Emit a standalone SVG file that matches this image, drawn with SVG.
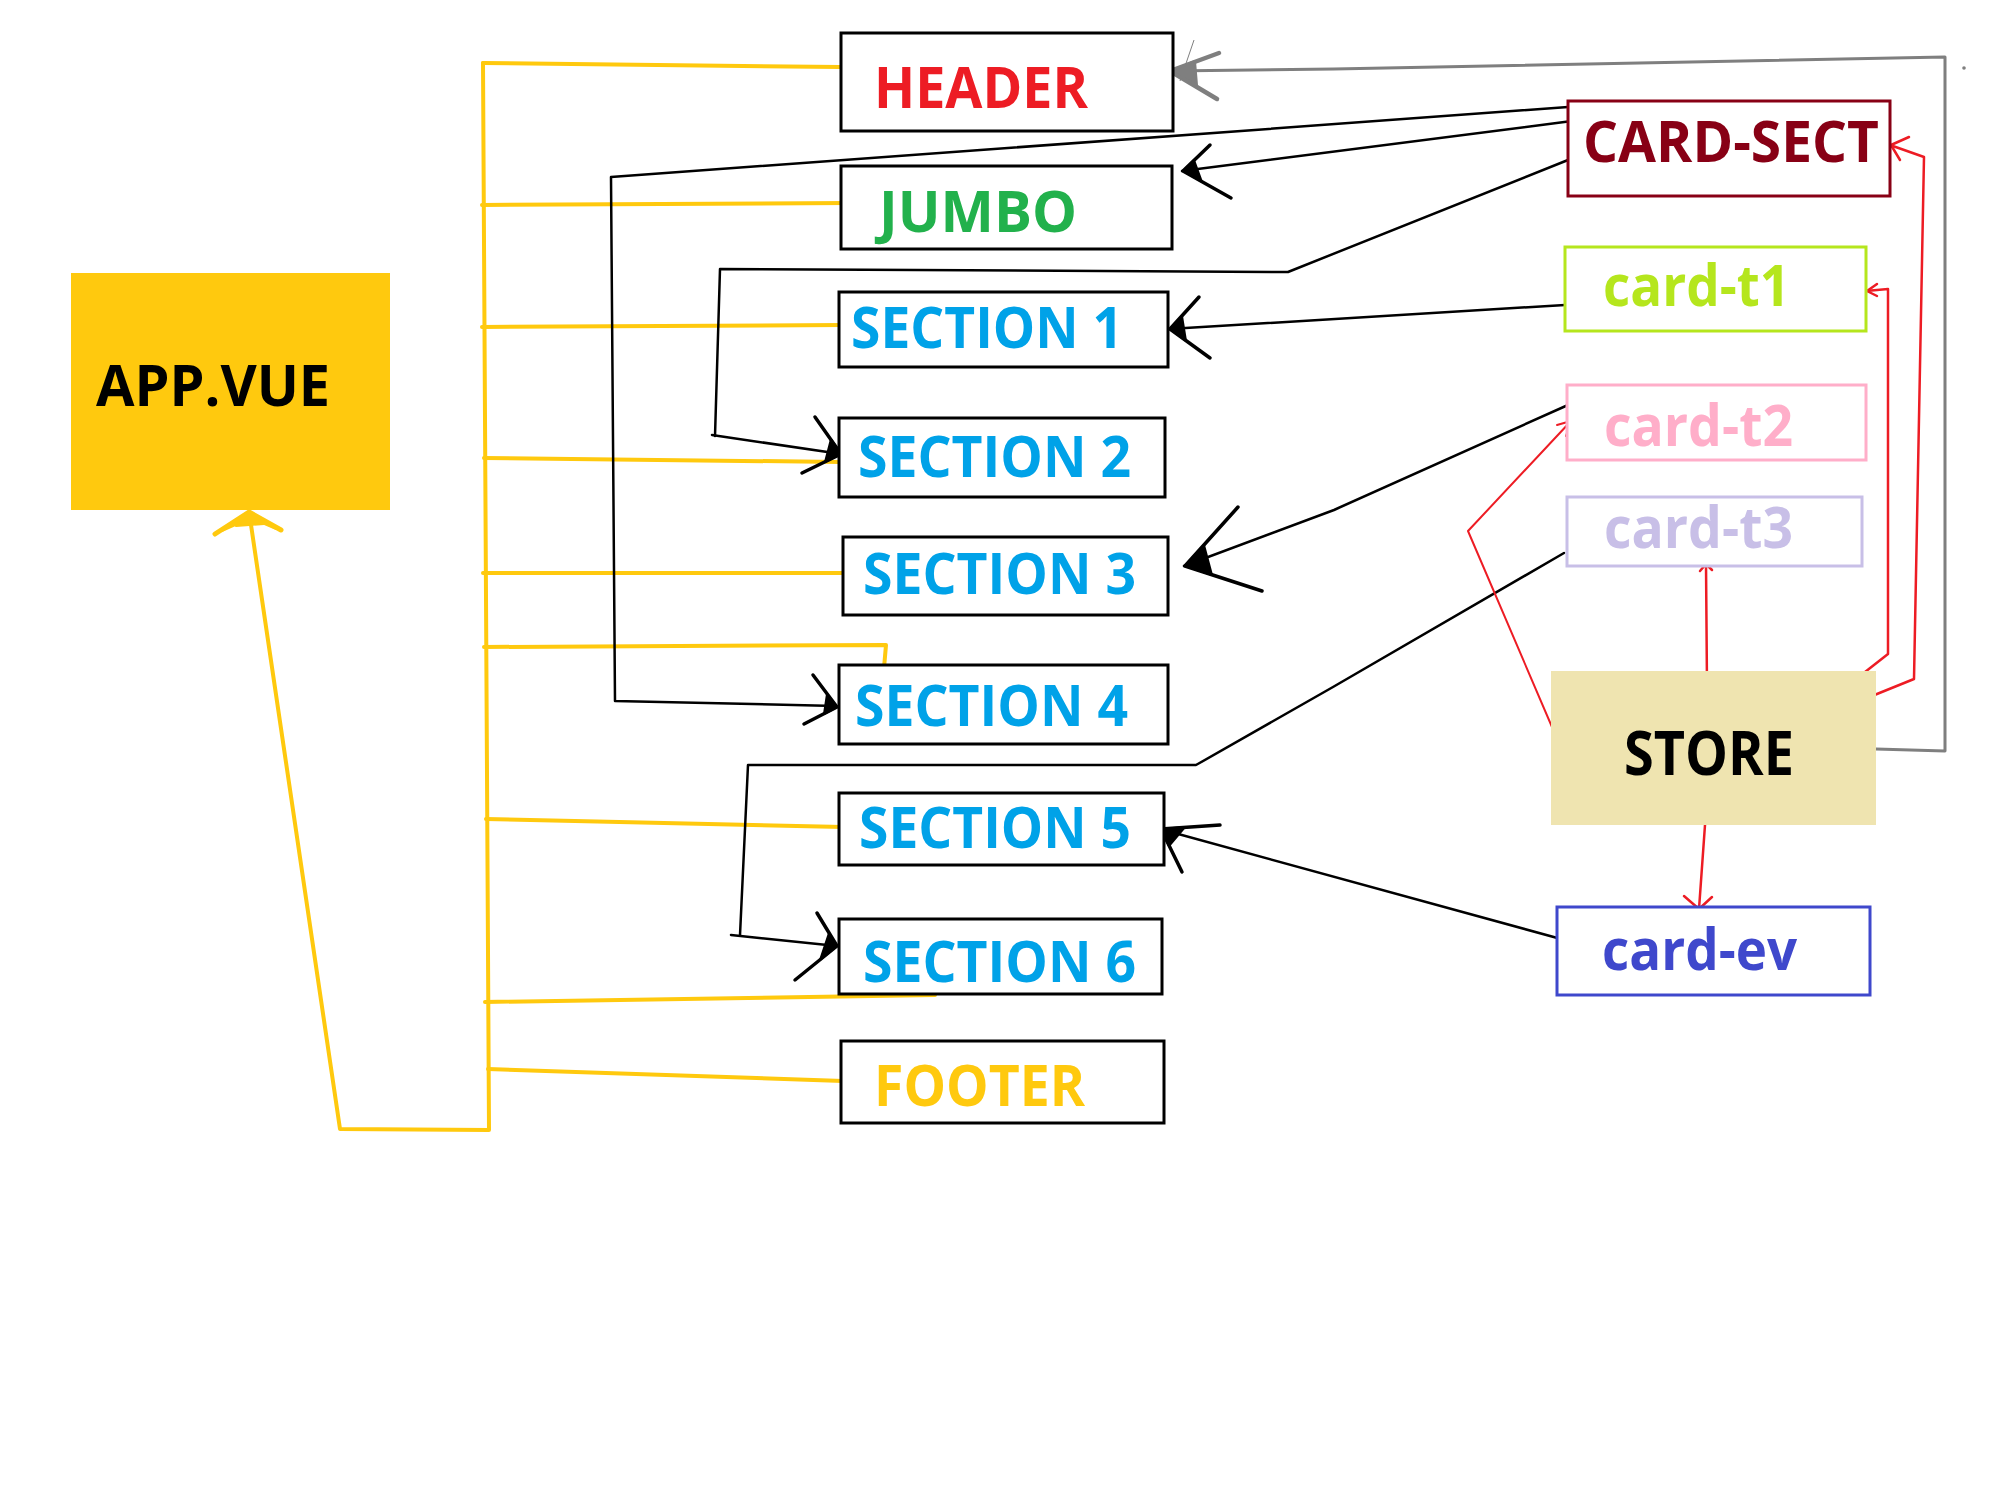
<svg xmlns="http://www.w3.org/2000/svg" width="2000" height="1500" viewBox="0 0 2000 1500">
<style>
.t{font-family:"Open Sans","Liberation Sans",sans-serif;font-weight:700;font-size:57px}
.box{fill:#fff;stroke:#000;stroke-width:3}
.y{fill:none;stroke:#FFC90E;stroke-width:4;stroke-linecap:round;stroke-linejoin:round}
.k{fill:none;stroke:#000;stroke-width:2.5;stroke-linecap:round;stroke-linejoin:round}
.kh{fill:none;stroke:#000;stroke-width:3.5;stroke-linecap:round;stroke-linejoin:round}
.kw{fill:#000;stroke:#000;stroke-width:2;stroke-linejoin:round}
.r{fill:none;stroke:#ED1C24;stroke-width:2.5;stroke-linecap:round;stroke-linejoin:round}
.g{fill:none;stroke:#7F7F7F;stroke-width:3;stroke-linecap:round;stroke-linejoin:round}
.blue{fill:#00A2E8}
</style>
<rect width="2000" height="1500" fill="#fff"/>

<g id="connectors">
  <!-- yellow tree from APP.VUE -->
  <polyline class="y" points="250,518 340,1129 489,1130 483,63"/>
  <polyline class="y" points="483,63 840,67"/>
  <polyline class="y" points="482,205 849,203"/>
  <polyline class="y" points="482,327 843,325"/>
  <polyline class="y" points="484,458 841,462"/>
  <polyline class="y" points="483,573 846,573"/>
  <polyline class="y" points="484,647 886,645 884,668"/>
  <polyline class="y" points="486,819 843,827"/>
  <polyline class="y" points="485,1002 935,995"/>
  <polyline class="y" points="488,1069 843,1081"/>
  <polyline class="y" style="stroke-width:5" points="215,534 249,512 281,530"/>
  <polyline class="y" points="222,530 240,522 262,522 276,528"/>
  <polygon points="249,512 236,526 264,524" fill="#FFC90E" stroke="#FFC90E" stroke-width="2" stroke-linejoin="round"/>

  <!-- gray STORE -> HEADER -->
  <polyline class="g" points="1876,749 1945,751 1945,57 1334,69 1169,71"/>
  <polyline class="g" style="stroke-width:4.5" points="1219,53 1170,71 1217,99"/>
  <polygon points="1170,71 1195,61 1197,85" fill="#7F7F7F" stroke="#7F7F7F" stroke-width="2" stroke-linejoin="round"/>
  <line x1="1194" y1="40" x2="1180" y2="81" stroke="#7F7F7F" stroke-width="1"/>
  <circle cx="1964" cy="68" r="1.8" fill="#7F7F7F"/>

  <!-- CARD-SECT -> SECTION 4 -->
  <polyline class="k" points="1568,107 611,177 615,701 836,706"/>
  <polyline class="kh" points="813,675 837,707 804,724"/>
  <polygon class="kw" points="837,707 827,694 824,714"/>
  <!-- CARD-SECT -> JUMBO -->
  <polyline class="k" points="1572,121 1182,171"/>
  <polyline class="kh" points="1210,145 1183,171 1231,198"/>
  <polygon class="kw" points="1183,171 1194,160 1202,182"/>
  <!-- CARD-SECT -> SECTION 2 -->
  <polyline class="k" points="1568,160 1288,272 720,269 715,436"/>
  <polyline class="k" points="712,435 841,454"/>
  <polyline class="kh" points="815,417 841,454 802,473"/>
  <polygon class="kw" points="841,454 831,439 825,462"/>
  <!-- card-t1 -> SECTION 1 -->
  <polyline class="k" points="1565,305 1169,329"/>
  <polyline class="kh" points="1199,297 1170,329 1210,358"/>
  <polygon class="kw" points="1170,329 1182,316 1186,341"/>
  <!-- card-t2 -> SECTION 3 -->
  <polyline class="k" points="1568,405 1334,510 1184,566"/>
  <polyline class="kh" points="1238,507 1185,566 1262,591"/>
  <polygon class="kw" points="1185,566 1204,545 1212,575"/>
  <!-- card-t3 -> SECTION 6 -->
  <polyline class="k" points="1564,553 1333,687 1196,765 748,765 740,935"/>
  <polyline class="k" points="731,935 837,946"/>
  <polyline class="kh" points="817,913 837,946 795,980"/>
  <polygon class="kw" points="837,946 829,933 820,960"/>
  <!-- card-ev -> SECTION 5 -->
  <polyline class="k" points="1561,939 1160,829"/>
  <polyline class="kh" points="1220,825 1161,829 1182,872"/>
  <polygon class="kw" points="1161,829 1185,827 1169,846"/>

  <!-- red STORE connectors -->
  <polyline class="r" points="1872,696 1914,679 1924,157 1890,145"/>
  <polyline class="r" points="1909,137 1891,145 1900,160"/>
  <polyline class="r" points="1851,683 1888,654 1888,289 1866,291"/>
  <polyline class="r" points="1877,284 1867,291 1877,296"/>
  <polyline class="r" points="1707,687 1706,564"/>
  <polyline class="r" points="1700,571 1706,564 1712,570"/>
  <polyline class="r" style="stroke-width:2" points="1558,741 1468,531 1571,421"/>
  <polyline class="r" style="stroke-width:2" points="1557,425 1571,421 1566,436"/>
  <polyline class="r" points="1705,825 1699,909"/>
  <polyline class="r" points="1684,896 1699,909 1712,897"/>
</g>

<g id="app-vue">
  <rect x="71" y="273" width="319" height="237" fill="#FFC90E"/>
  <text class="t" x="96" y="406" textLength="234" lengthAdjust="spacingAndGlyphs" fill="#000">APP.VUE</text>
</g>
<g id="header">
  <rect class="box" x="841" y="33" width="332" height="98"/>
  <text class="t" x="874" y="108" textLength="214" lengthAdjust="spacingAndGlyphs" fill="#ED1C24">HEADER</text>
</g>
<g id="jumbo">
  <rect class="box" x="841" y="166" width="331" height="83"/>
  <text class="t" x="879" y="232" textLength="198" lengthAdjust="spacingAndGlyphs" fill="#22B14C">JUMBO</text>
</g>
<g id="section1">
  <rect class="box" x="839" y="292" width="329" height="75"/>
  <text class="t blue" x="851" y="348" textLength="272" lengthAdjust="spacingAndGlyphs">SECTION 1</text>
</g>
<g id="section2">
  <rect class="box" x="839" y="418" width="326" height="79"/>
  <text class="t blue" x="858" y="477" textLength="273" lengthAdjust="spacingAndGlyphs">SECTION 2</text>
</g>
<g id="section3">
  <rect class="box" x="843" y="537" width="325" height="78"/>
  <text class="t blue" x="863" y="594" textLength="273" lengthAdjust="spacingAndGlyphs">SECTION 3</text>
</g>
<g id="section4">
  <rect class="box" x="839" y="665" width="329" height="79"/>
  <text class="t blue" x="855" y="726" textLength="273" lengthAdjust="spacingAndGlyphs">SECTION 4</text>
</g>
<g id="section5">
  <rect class="box" x="839" y="793" width="325" height="72"/>
  <text class="t blue" x="859" y="848" textLength="272" lengthAdjust="spacingAndGlyphs">SECTION 5</text>
</g>
<g id="section6">
  <rect class="box" x="839" y="919" width="323" height="75"/>
  <text class="t blue" x="863" y="982" textLength="273" lengthAdjust="spacingAndGlyphs">SECTION 6</text>
</g>
<g id="footer">
  <rect class="box" x="841" y="1041" width="323" height="82"/>
  <text class="t" x="874" y="1106" textLength="211" lengthAdjust="spacingAndGlyphs" fill="#FFC90E">FOOTER</text>
</g>
<g id="card-sect">
  <rect x="1568" y="101" width="322" height="95" fill="#fff" stroke="#880015" stroke-width="3"/>
  <text class="t" x="1583" y="162" textLength="296" lengthAdjust="spacingAndGlyphs" fill="#880015">CARD-SECT</text>
</g>
<g id="card-t1">
  <rect x="1565" y="247" width="301" height="84" fill="#fff" stroke="#B5E61D" stroke-width="3"/>
  <text class="t" x="1603" y="306" textLength="187" lengthAdjust="spacingAndGlyphs" fill="#B5E61D">card-t1</text>
</g>
<g id="card-t2">
  <rect x="1567" y="385" width="299" height="75" fill="#fff" stroke="#FFAEC9" stroke-width="3"/>
  <text class="t" x="1604" y="446" textLength="189" lengthAdjust="spacingAndGlyphs" fill="#FFAEC9">card-t2</text>
</g>
<g id="card-t3">
  <rect x="1567" y="497" width="295" height="69" fill="#fff" stroke="#C8BFE7" stroke-width="3"/>
  <text class="t" x="1604" y="548" textLength="189" lengthAdjust="spacingAndGlyphs" fill="#C8BFE7">card-t3</text>
</g>
<g id="store">
  <rect x="1551" y="671" width="325" height="154" fill="#EFE4B0"/>
  <text class="t" x="1624" y="775" textLength="170" lengthAdjust="spacingAndGlyphs" style="font-size:60px" fill="#000">STORE</text>
</g>
<g id="card-ev">
  <rect x="1557" y="907" width="313" height="88" fill="#fff" stroke="#3F48CC" stroke-width="3"/>
  <text class="t" x="1602" y="970" textLength="195" lengthAdjust="spacingAndGlyphs" fill="#3F48CC">card-ev</text>
</g>
</svg>
